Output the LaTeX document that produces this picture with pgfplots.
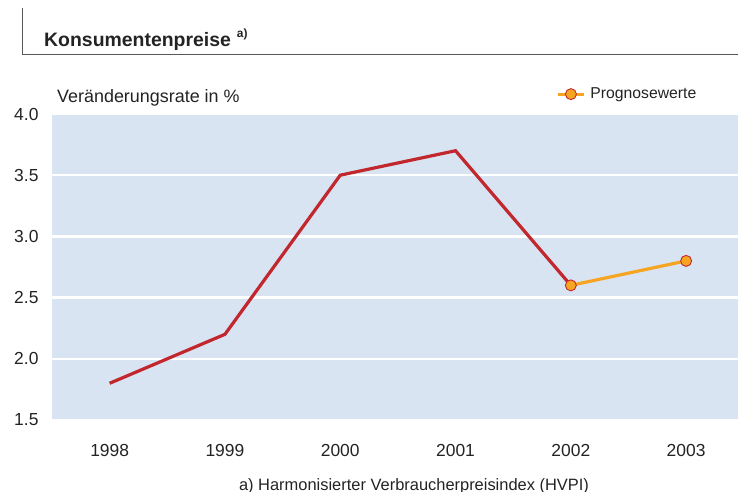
\documentclass[border=0pt]{standalone}
\usepackage{pgfplots}
\pgfplotsset{compat=1.18}
\usepackage{fontspec}
\setmainfont{Liberation Sans}
\definecolor{bgblue}{RGB}{217,228,243}
\definecolor{linered}{RGB}{193,39,45}
\definecolor{lineorange}{RGB}{246,165,35}
\definecolor{textgray}{RGB}{35,35,35}
\begin{document}
\begin{tikzpicture}
\useasboundingbox (0bp,0bp) rectangle (738bp,492bp);
% title frame
\draw[line width=0.8bp, color=black!65] (22bp,484bp) -- (22bp,438bp) -- (738bp,438bp);
\node[anchor=base west, inner sep=0, font=\fontsize{19.5}{22}\selectfont\bfseries, text=textgray] at (44bp,445bp) {Konsumentenpreise\hspace{6bp}\raisebox{0.5em}{\fontsize{12}{13}\selectfont a)}};
\node[anchor=base west, inner sep=0, font=\fontsize{18}{21}\selectfont, text=textgray] at (57bp,389bp) {Veränderungsrate in \%};
\node[anchor=base, inner sep=0, font=\fontsize{16.5}{19}\selectfont, text=textgray] at (414bp,2bp) {a) Harmonisierter Verbraucherpreisindex (HVPI)};
\begin{axis}[
  at={(52bp,72bp)}, anchor=south west,
  scale only axis, width=686bp, height=306bp,
  xmin=-0.5, xmax=5.45, ymin=1.5, ymax=4.0,
  axis background/.style={fill=bgblue},
  axis line style={draw=none},
  xtick={0,1,2,3,4,5},
  xticklabels={1998,1999,2000,2001,2002,2003},
  ytick={1.5,2.0,2.5,3.0,3.5,4.0},
  y tick label style={/pgf/number format/fixed, /pgf/number format/fixed zerofill, /pgf/number format/precision=1},
  /pgf/number format/assume math mode=true,
  tick style={draw=none},
  ymajorgrids, grid style={white, line width=2.5bp},
  ticklabel style={font=\fontsize{17.5}{20}\selectfont, text=textgray},
  xticklabel style={yshift=-20.5bp},
  yticklabel style={xshift=-10bp},
  clip=false,
  legend style={at={(0.735,1.065)}, anchor=west, draw=none, fill=none, inner sep=0pt,
    font=\fontsize{15.8}{18}\selectfont, text=textgray, legend cell align=left,
    nodes={inner xsep=5bp}},
  legend image code/.code={
    \draw[#1, line width=3bp] (0bp,0bp) -- (26bp,0bp);
    \draw[#1, only marks] plot coordinates {(13bp,0bp)};
  },
]
\addplot[linered, line width=3.2bp, forget plot] coordinates {(0,1.8) (1,2.2) (2,3.5) (3,3.7) (4,2.6)};
\addplot[lineorange, line width=3.2bp, mark=*, mark size=5.5bp,
  mark options={fill=lineorange, draw=linered, line width=0.9bp}] coordinates {(4,2.6) (5,2.8)};
\addlegendentry{Prognosewerte}
\end{axis}
\end{tikzpicture}
\end{document}
